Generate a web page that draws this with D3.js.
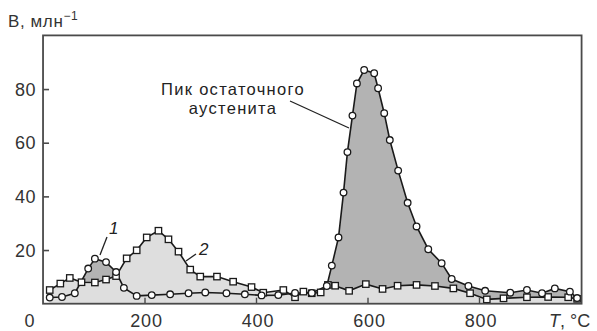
<!DOCTYPE html>
<html>
<head>
<meta charset="utf-8">
<script src="https://cdn.jsdelivr.net/npm/d3@7"></script>
<style>
  html, body { margin: 0; padding: 0; background: #fff; }
  svg { display: block; font-family: "Liberation Sans", Arial, sans-serif; }
</style>
</head>
<body>
<svg id="chart" width="597" height="331"></svg>
<script>
// Curve 1 (circles): temperature, °C and B, ppm
const curve1T = [30, 52, 75, 99, 111, 131, 149, 163, 186, 213, 246, 279, 309, 347, 380, 410, 440, 470, 500, 527,
  536, 548, 557, 564, 573, 581, 594, 612, 619, 630, 640, 655, 672, 688, 709, 733, 751, 781, 811, 856, 886, 913, 936, 963, 976];
const curve1B = [2.3, 2.5, 3.9, 13.1, 16.8, 15.5, 11.8, 5.9, 2.9, 3.2, 3.5, 3.9, 4.2, 3.9, 3.5, 3.1, 3.2, 4.0, 4.0, 6.6,
  14.2, 24.7, 41.4, 56.5, 70.1, 82.1, 87.1, 85.9, 80.3, 71.0, 61.0, 49.6, 37.6, 28.8, 20.3, 15.1, 9.2, 6.6, 4.8, 4.1, 5.1, 3.9, 5.7, 4.5, 2.1];

// Curve 2 (squares)
const curve2T = [30, 49, 66, 87, 111, 131, 149, 168, 186, 204, 225, 243, 261, 282, 300, 330, 359, 392, 413, 449, 470, 485,
  500, 516, 529, 542, 567, 597, 627, 654, 688, 721, 754, 784, 814, 844, 886, 924, 960, 976];
const curve2B = [5.1, 7.5, 9.6, 8.0, 7.9, 9.0, 10.3, 16.9, 19.9, 24.7, 27.2, 24.0, 19.4, 12.7, 10.1, 10.1, 8.2, 6.2, 4.1, 5.1, 2.4, 4.5,
  3.9, 4.2, 7.0, 6.7, 4.8, 7.3, 5.5, 6.7, 7.0, 6.6, 5.7, 3.9, 1.6, 2.0, 2.4, 2.5, 2.4, 1.8];

const xTicks = [0, 200, 400, 600, 800];
const yTicks = [20, 40, 60, 80];

const svg = d3.select("#chart");
const x = d3.scaleLinear().domain([0, 800]).range([33, 479]);
const y = d3.scaleLinear().domain([0, 100]).range([303.7, 35.4]);

const frame = { left: x(18), right: x(984), top: y(100), bottom: y(0) };

const pts1 = curve1T.map((t, i) => [t, curve1B[i]]);
const pts2 = curve2T.map((t, i) => [t, curve2B[i]]);

svg.append("clipPath").attr("id", "plotClip")
  .append("rect")
  .attr("x", frame.left).attr("y", frame.top)
  .attr("width", frame.right - frame.left).attr("height", frame.bottom - frame.top);

const plot = svg.append("g").attr("clip-path", "url(#plotClip)");

const area = d3.area().x(d => x(d[0])).y0(y(0)).y1(d => y(d[1]));
const line = d3.line().x(d => x(d[0])).y(d => y(d[1]));

// shaded areas: dark under curve 1, light under curve 2 on top
plot.append("path").datum([[curve1T[0], 0], ...pts1, [curve1T[curve1T.length - 1], 0]])
  .attr("d", area).attr("fill", "#b3b3b3");
plot.append("path").datum([[curve2T[0], 0], ...pts2, [curve2T[curve2T.length - 1], 0]])
  .attr("d", area).attr("fill", "#dedede");

// lines
plot.append("path").datum(pts2).attr("d", line)
  .attr("fill", "none").attr("stroke", "#1a1a1a").attr("stroke-width", 1.6);
plot.append("path").datum(pts1).attr("d", line)
  .attr("fill", "none").attr("stroke", "#1a1a1a").attr("stroke-width", 1.6);

// markers
plot.selectAll("rect.sq").data(pts2).enter().append("rect")
  .attr("class", "sq")
  .attr("x", d => x(d[0]) - 3.2).attr("y", d => y(d[1]) - 3.2)
  .attr("width", 6.4).attr("height", 6.4)
  .attr("fill", "#fff").attr("stroke", "#1a1a1a").attr("stroke-width", 1.3);
plot.selectAll("circle.ci").data(pts1).enter().append("circle")
  .attr("class", "ci")
  .attr("cx", d => x(d[0])).attr("cy", d => y(d[1])).attr("r", 3.3)
  .attr("fill", "#fff").attr("stroke", "#1a1a1a").attr("stroke-width", 1.3);

// frame
svg.append("rect")
  .attr("x", frame.left).attr("y", frame.top)
  .attr("width", frame.right - frame.left).attr("height", frame.bottom - frame.top)
  .attr("fill", "none").attr("stroke", "#4a4a4a").attr("stroke-width", 1.8);

// y axis ticks (inside) and labels
const yAxis = d3.axisRight(y).tickValues(yTicks).tickSize(6).tickFormat("");
svg.append("g").attr("transform", `translate(${frame.left},0)`).call(yAxis)
  .call(g => g.select(".domain").remove())
  .call(g => g.selectAll("line").attr("stroke", "#4a4a4a").attr("stroke-width", 1.6));
svg.append("g").selectAll("text").data(yTicks).enter().append("text")
  .attr("x", 36).attr("y", d => y(d) + 6.5)
  .attr("text-anchor", "end").attr("font-size", 18).attr("letter-spacing", 0.5).attr("fill", "#333")
  .text(d => d);

// x axis ticks (inside) and labels
const xAxis = d3.axisTop(x).tickValues(xTicks.filter(t => t > 0)).tickSize(6).tickFormat("");
svg.append("g").attr("transform", `translate(0,${frame.bottom})`).call(xAxis)
  .call(g => g.select(".domain").remove())
  .call(g => g.selectAll("line").attr("stroke", "#4a4a4a").attr("stroke-width", 1.4));
svg.append("g").selectAll("text").data(xTicks).enter().append("text")
  .attr("x", d => x(d) + (d === 0 ? -3 : 2)).attr("y", 326.5)
  .attr("text-anchor", "middle").attr("font-size", 18).attr("letter-spacing", 0.8).attr("fill", "#333")
  .text(d => d);

// axis titles
const xt = svg.append("text").attr("x", 549).attr("y", 326.5).attr("font-size", 18).attr("fill", "#333");
xt.append("tspan").attr("font-style", "italic").text("T");
xt.append("tspan").text(", °C");

const yt = svg.append("text").attr("x", 8).attr("y", 27).attr("font-size", 17).attr("letter-spacing", 0.6).attr("fill", "#333");
yt.append("tspan").text("B, млн");
yt.append("tspan").attr("dy", -7).attr("font-size", 12).text("−1");

// annotations
const ann = svg.append("g").attr("fill", "#222").attr("font-size", 16.5).attr("letter-spacing", 1.3).attr("text-anchor", "middle");
ann.append("text").attr("x", 233).attr("y", 95).text("Пик остаточного");
ann.append("text").attr("x", 233).attr("y", 114).text("аустенита");
svg.append("line").attr("x1", 290).attr("y1", 101).attr("x2", 349).attr("y2", 128)
  .attr("stroke", "#222").attr("stroke-width", 1.3);

svg.append("text").attr("x", 109).attr("y", 234).attr("font-size", 17).attr("font-style", "italic")
  .attr("fill", "#222").text("1");
svg.append("line").attr("x1", 107).attr("y1", 237).attr("x2", 100).attr("y2", 255)
  .attr("stroke", "#222").attr("stroke-width", 1.3);

svg.append("text").attr("x", 199).attr("y", 255).attr("font-size", 17).attr("font-style", "italic")
  .attr("fill", "#222").text("2");
svg.append("line").attr("x1", 196).attr("y1", 254).attr("x2", 186).attr("y2", 261)
  .attr("stroke", "#222").attr("stroke-width", 1.3);
</script>
</body>
</html>
